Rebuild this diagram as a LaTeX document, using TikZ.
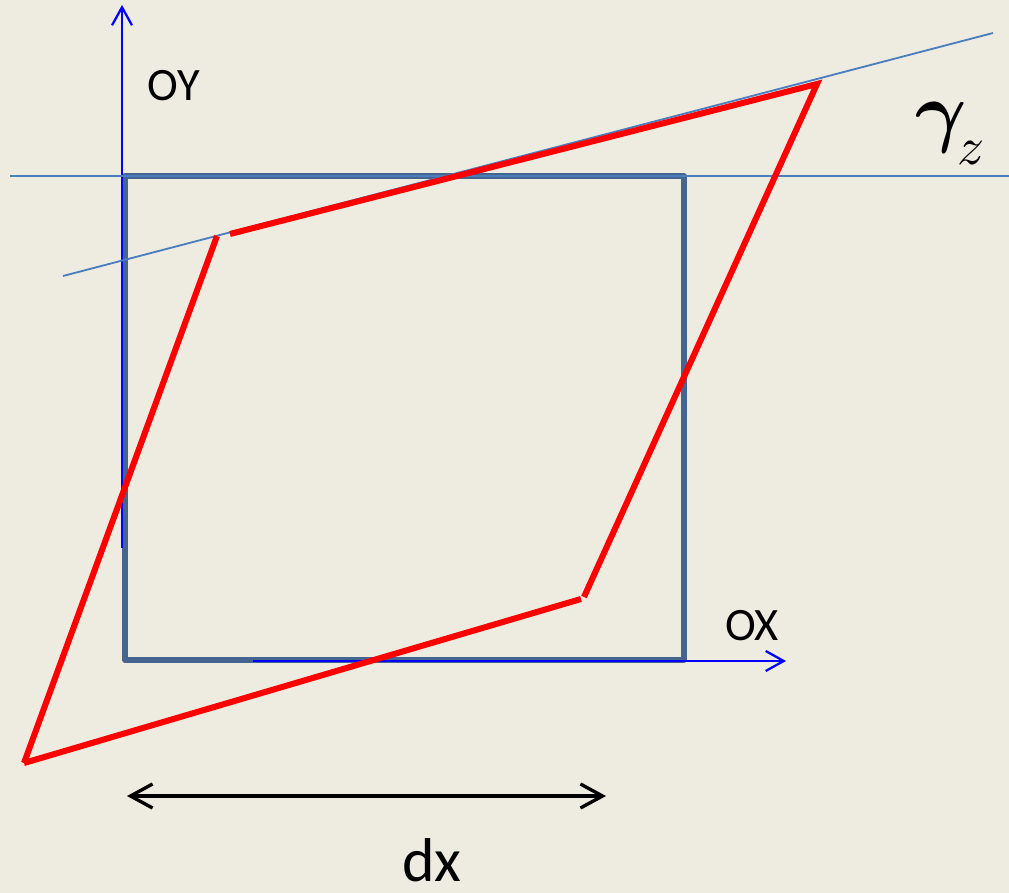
\documentclass[tikz,border=0pt]{standalone}
\usepackage{fontspec}
\usepackage{unicode-math}
\setmainfont{Carlito}
\usetikzlibrary{arrows.meta}
\definecolor{bgbeige}{HTML}{EEEBE1}
\definecolor{squareblue}{HTML}{44658F}
\definecolor{lineblue}{HTML}{4A7EC0}
\definecolor{axisblue}{HTML}{0000FF}
\definecolor{shearred}{HTML}{FF0000}
\begin{document}
\begin{tikzpicture}[x=0.025cm,y=-0.025cm,
  >={Straight Barb[length=0.45cm,width=0.5cm,line width=1.6pt]},
  square/.style={draw=squareblue,line width=3.6pt},
  thinline/.style={draw=lineblue,line width=1.3pt},
  axis/.style={draw=axisblue,line width=1.7pt},
  shear/.style={draw=shearred,line width=4.3pt},
  lbl/.style={inner sep=0pt,font=\fontsize{33}{36}\selectfont}]
				% nen
				\fill[bgbeige] (0,0) rectangle (1009,893);
				\useasboundingbox (0,0) rectangle (1009,893);
				% cac diem
				\coordinate (A) at (125,176);
				\coordinate (B) at (684,176);
				\coordinate (C) at (684,660);
				\coordinate (D) at (125,660);
				\coordinate (hL) at (10,176);
				\coordinate (hR) at (1009,176);
				\coordinate (tL) at (63,276);
				\coordinate (tR) at (993,33);
				\coordinate (P1) at (24,763);
				\coordinate (P2) at (217,236);
				\coordinate (P3) at (230,234);
				\coordinate (P4) at (817,84);
				\coordinate (P5) at (584,597);
				\coordinate (P6) at (581,599);
				\coordinate (yb) at (122,548);
				\coordinate (yt) at (122,5);
				\coordinate (xb) at (253,661);
				\coordinate (xt) at (786,661);
				\coordinate (dL) at (127,796);
				\coordinate (dR) at (606,796);
				% hinh vuong
				\draw[square,line join=round] (A) -- (B) -- (C) -- (D) -- cycle;
				% cac truc
				\draw[axis,->] (yb) -- (yt);
				\draw[axis,->] (xb) -- (xt);
				% duong ke
				\draw[thinline] (hL) -- (hR);
				\draw[thinline] (tL) -- (tR);
				% hinh binh hanh
				\draw[shear] (P1) -- (P2);
				\draw[shear] (P3) -- (P4) -- (P5);
				\draw[shear] (P6) -- (P1);
				% kich thuoc
				\draw[<->,line width=2.8pt,>={Straight Barb[length=0.55cm,width=0.6cm,line width=2.4pt]}] (dL) -- (dR);
				% nhan
				\node[lbl] (oy) at (174,86) {OY};
				\node[lbl] (ox) at (752,626) {OX};
				\node[inner sep=0pt,font=\fontsize{44}{48}\selectfont] (dx) at (432,860) {dx};
				\node[inner sep=0pt,anchor=base west,font=\fontsize{56}{60}\selectfont] (gam) at (915,138) {$\symbfit{\gamma}$};
				\node[inner sep=0pt,anchor=base west,font=\fontsize{38}{42}\selectfont] (zs) at ([xshift=-0.22cm,yshift=-0.65cm]gam.base east) {$z$};
\end{tikzpicture}
\end{document}
